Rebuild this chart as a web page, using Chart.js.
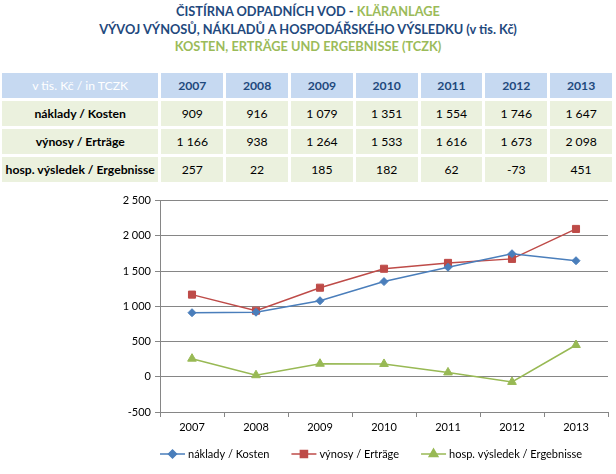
<!DOCTYPE html>
<html><head><meta charset="utf-8">
<script src="https://cdn.jsdelivr.net/npm/chart.js@4.4.1/dist/chart.umd.min.js"></script>
<style>
body{margin:0;width:616px;height:474px;overflow:hidden;background:#fff;font-family:Lato,"Open Sans",sans-serif;position:relative}
#title{position:absolute;left:0;top:3px;width:616px;text-align:center;font-weight:bold;font-size:12.8px;line-height:17.5px;color:#1f497d}
#title .g{color:#9bbb59}
table{position:absolute;left:-1px;top:70px;border-collapse:separate;border-spacing:3px;font-size:12.2px;color:#000}
td{height:25px;padding:0;text-align:center;background:#ebf1de;width:62px}
td.h{background:#c6d9f1;color:#1f497d;font-weight:bold}
td.h0{background:#c6d9f1;color:#fff;width:157px}
td.l{font-weight:bold;width:157px}
#wrap{position:absolute;left:0;top:190px;width:616px;height:284px}
</style></head>
<body>
<div id="title">
<div>ČISTÍRNA ODPADNÍCH VOD - <span class="g">KLÄRANLAGE</span></div>
<div>VÝVOJ VÝNOSŮ, NÁKLADŮ A HOSPODÁŘSKÉHO VÝSLEDKU (v tis. Kč)</div>
<div class="g">KOSTEN, ERTRÄGE UND ERGEBNISSE (TCZK)</div>
</div>
<table id="tbl"></table>
<div id="wrap"><canvas id="c" width="616" height="284"></canvas></div>
<script>
const years = ['2007','2008','2009','2010','2011','2012','2013'];
const cornerLabel = 'v tis. Kč / in TCZK';
const seriesNames = ['náklady / Kosten','výnosy / Erträge','hosp. výsledek / Ergebnisse'];
const naklady = [909, 916, 1079, 1351, 1554, 1746, 1647];
const vynosy = [1166, 938, 1264, 1533, 1616, 1673, 2098];
const vysledek = [257, 22, 185, 182, 62, -73, 451];
const yMin = -500, yMax = 2500, yStep = 500;

function fmt(v){
  const s = String(Math.abs(v)).replace(/\B(?=(\d{3})+(?!\d))/g,' ');
  return (v<0?'-':'')+s;
}

// table built from the arrays
const tbl = document.getElementById('tbl');
let html = '<tr><td class="h0">'+cornerLabel+'</td>'+years.map(y=>'<td class="h">'+y+'</td>').join('')+'</tr>';
[naklady,vynosy,vysledek].forEach((arr,i)=>{
  html += '<tr><td class="l">'+seriesNames[i]+'</td>'+arr.map(v=>'<td>'+fmt(v)+'</td>').join('')+'</tr>';
});
tbl.innerHTML = html;

const colors = ['#4a7ebb','#be4b48','#98b954'];
const styles = ['rectRot','rect','triangle'];
const radii = [4,5,5];

new Chart(document.getElementById('c'), {
  type:'line',
  data:{
    labels: years,
    datasets:[naklady,vynosy,vysledek].map((d,i)=>({
      label: seriesNames[i], data: d,
      borderColor: colors[i], backgroundColor: colors[i],
      borderWidth: 1.5, pointStyle: styles[i], pointRadius: radii[i],
      pointHoverRadius: radii[i], pointBorderWidth: 1, tension: 0
    }))
  },
  options:{
    responsive:false, animation:false, devicePixelRatio:1,
    layout:{padding:{top:9,right:8,bottom:32,left:0}},
    plugins:{legend:{display:false}, tooltip:{enabled:false}},
    scales:{
      x:{
        offset:true,
        grid:{drawOnChartArea:false, drawTicks:true, tickLength:5, offset:true, color:'#868686'},
        border:{color:'#868686'},
        ticks:{color:'#000', font:{size:11, family:'Lato'}, padding:4, maxRotation:0},
        afterFit(s){ s.height = 30; }
      },
      y:{
        min:yMin, max:yMax,
        grid:{color:'#868686', tickLength:5},
        border:{color:'#868686'},
        ticks:{stepSize:yStep, color:'#000', font:{size:11, family:'Lato'}, padding:4, callback:v=>fmt(v)},
        afterFit(s){ s.width = 160; }
      }
    }
  },
  plugins:[{
    id:'customLegend',
    afterDraw(chart){
      const ctx = chart.ctx;
      ctx.save();
      ctx.font = '11px Lato, "Open Sans", sans-serif';
      ctx.textBaseline = 'middle';
      let x = chart.chartArea.left;
      const y = chart.height - 20;
      chart.data.datasets.forEach(ds=>{
        ctx.strokeStyle = ds.borderColor; ctx.lineWidth = 1.5;
        ctx.beginPath(); ctx.moveTo(x, y); ctx.lineTo(x+25, y); ctx.stroke();
        ctx.fillStyle = ds.backgroundColor;
        Chart.helpers.drawPoint(ctx, {pointStyle: ds.pointStyle, rotation:0, borderWidth:1, radius: ds.pointRadius}, x+12.5, y);
        ctx.fillStyle = '#000';
        ctx.fillText(ds.label, x+28, y);
        x += 28 + ctx.measureText(ds.label).width + 22;
      });
      ctx.restore();
    }
  }]
});
</script>
</body></html>
